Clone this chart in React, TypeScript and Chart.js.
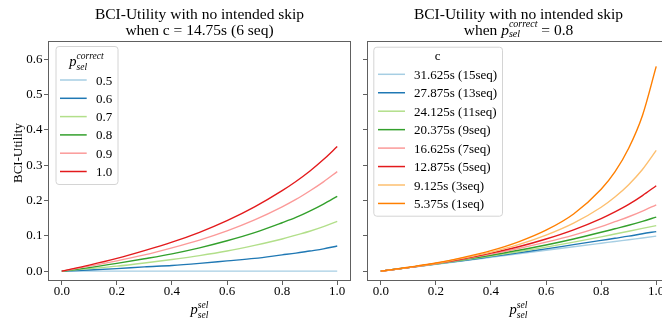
import React, { useEffect, useRef } from 'react';
import { Chart, registerables } from 'chart.js';

Chart.register(...registerables);

// ---------- data ----------
const X_VALUES = [0, 0.1, 0.2, 0.3, 0.4, 0.5, 0.6, 0.7, 0.8, 0.85, 0.9, 0.95, 1.0];
const X_TICKS = [0, 0.2, 0.4, 0.6, 0.8, 1.0];
const Y_TICKS = [0, 0.1, 0.2, 0.3, 0.4, 0.5, 0.6];

// left panel: c = 14.75s, one series per p_sel^correct
const P_CORRECT_LABELS = ['0.5', '0.6', '0.7', '0.8', '0.9', '1.0'];
const U_P05 = [0, 0, 0, 0, 0, 0, 0, 0, 0, 0, 0, 0, 0];
const U_P06 = [0, 0.003, 0.007, 0.012, 0.016, 0.022, 0.029, 0.036, 0.046, 0.051, 0.057, 0.063, 0.071];
const U_P07 = [0, 0.007, 0.014, 0.023, 0.033, 0.044, 0.057, 0.073, 0.091, 0.102, 0.113, 0.126, 0.141];
const U_P08 = [0, 0.010, 0.022, 0.035, 0.049, 0.066, 0.086, 0.109, 0.137, 0.152, 0.170, 0.190, 0.212];
const U_P09 = [0, 0.014, 0.029, 0.046, 0.066, 0.088, 0.114, 0.145, 0.182, 0.203, 0.227, 0.253, 0.282];
const U_P10 = [0, 0.017, 0.036, 0.058, 0.082, 0.110, 0.143, 0.182, 0.228, 0.254, 0.283, 0.316, 0.353];

// right panel: p_sel^correct = 0.8, one series per c
const C_LABELS = [
  '31.625s (15seq)',
  '27.875s (13seq)',
  '24.125s (11seq)',
  '20.375s (9seq)',
  '16.625s (7seq)',
  '12.875s (5seq)',
  '9.125s (3seq)',
  '5.375s (1seq)',
];
const U_C15 = [0, 0.010, 0.019, 0.029, 0.039, 0.049, 0.059, 0.069, 0.079, 0.084, 0.089, 0.094, 0.099];
const U_C13 = [0, 0.010, 0.020, 0.030, 0.041, 0.052, 0.063, 0.075, 0.087, 0.093, 0.099, 0.106, 0.112];
const U_C11 = [0, 0.010, 0.020, 0.031, 0.043, 0.055, 0.068, 0.082, 0.097, 0.105, 0.113, 0.121, 0.129];
const U_C9 = [0, 0.010, 0.021, 0.033, 0.045, 0.059, 0.074, 0.091, 0.110, 0.120, 0.130, 0.141, 0.153];
const U_C7 = [0, 0.010, 0.021, 0.034, 0.048, 0.064, 0.082, 0.102, 0.126, 0.140, 0.154, 0.170, 0.188];
const U_C5 = [0, 0.010, 0.022, 0.035, 0.051, 0.069, 0.091, 0.117, 0.149, 0.168, 0.189, 0.214, 0.242];
const U_C3 = [0, 0.010, 0.022, 0.037, 0.054, 0.075, 0.102, 0.136, 0.181, 0.210, 0.245, 0.288, 0.342];
const U_C1 = [0, 0.011, 0.023, 0.039, 0.058, 0.083, 0.116, 0.162, 0.232, 0.281, 0.348, 0.441, 0.580];

const PAIRED = ['#a6cee3', '#1f78b4', '#b2df8a', '#33a02c', '#fb9a99', '#e31a1c', '#fdbf6f', '#ff7f00'];

// ---------- styling helpers ----------
const SERIF = "'Liberation Serif', 'Times New Roman', serif";
const FRAME = '#606060';

type Run = { t: string; size: number; italic?: boolean; dy?: number };
type Piece = Run | { stack: Run[] };

const fontOf = (size: number, italic?: boolean) => `${italic ? 'italic ' : ''}${size}px ${SERIF}`;

function runWidth(ctx: CanvasRenderingContext2D, r: Run) {
  ctx.font = fontOf(r.size, r.italic);
  return ctx.measureText(r.t).width;
}
function pieceWidth(ctx: CanvasRenderingContext2D, p: Piece) {
  if ('stack' in p) return Math.max(...p.stack.map((r) => runWidth(ctx, r)));
  return runWidth(ctx, p);
}
function drawPieces(ctx: CanvasRenderingContext2D, pieces: Piece[], cx: number, baseline: number) {
  const total = pieces.reduce((s, p) => s + pieceWidth(ctx, p), 0);
  let x = cx - total / 2;
  ctx.fillStyle = '#000';
  ctx.textAlign = 'left';
  ctx.textBaseline = 'alphabetic';
  for (const p of pieces) {
    const runs = 'stack' in p ? p.stack : [p];
    for (const r of runs) {
      ctx.font = fontOf(r.size, r.italic);
      ctx.fillText(r.t, x, baseline + (r.dy || 0));
    }
    x += pieceWidth(ctx, p);
  }
}

type LegendSpec = {
  dx: number; dy: number; w: number; h: number;
  title: Piece[]; titleDy: number;
  labels: string[]; colors: string[];
  rowDy: number; rowStep: number; lineX0: number; lineX1: number; textX: number;
};
type Decor = {
  titleLines: Piece[][];
  titleBaselines: number[];
  xLabel: Piece[];
  xLabelBaseline: number;
  yLabel?: { text: string; x: number; y: number };
  legend: LegendSpec;
};

function decorPlugin(o: Decor) {
  return {
    id: 'decor',
    afterDraw(chart: any) {
      const ctx: CanvasRenderingContext2D = chart.ctx;
      const a = chart.chartArea;
      ctx.save();
      // frame
      ctx.strokeStyle = FRAME;
      ctx.lineWidth = 1;
      ctx.strokeRect(a.left + 0.5, a.top + 0.5, a.right - a.left - 1, a.bottom - a.top - 1);
      const cx = (a.left + a.right) / 2;
      // titles
      o.titleLines.forEach((line, i) => drawPieces(ctx, line, cx, o.titleBaselines[i]));
      // x label
      drawPieces(ctx, o.xLabel, cx, o.xLabelBaseline);
      // y label
      if (o.yLabel) {
        ctx.save();
        ctx.translate(o.yLabel.x, o.yLabel.y);
        ctx.rotate(-Math.PI / 2);
        ctx.font = fontOf(13);
        ctx.fillStyle = '#000';
        ctx.textAlign = 'center';
        ctx.textBaseline = 'middle';
        ctx.fillText(o.yLabel.text, 0, 0);
        ctx.restore();
      }
      // legend
      const L = o.legend;
      const bx = a.left + L.dx;
      const by = a.top + L.dy;
      ctx.beginPath();
      (ctx as any).roundRect(bx + 0.5, by + 0.5, L.w, L.h, 3);
      ctx.fillStyle = 'rgba(255,255,255,0.85)';
      ctx.fill();
      ctx.strokeStyle = '#d4d4d4';
      ctx.lineWidth = 1;
      ctx.stroke();
      drawPieces(ctx, L.title, bx + L.w / 2, by + L.titleDy);
      L.labels.forEach((label, i) => {
        const y = a.top + L.rowDy + i * L.rowStep;
        ctx.beginPath();
        ctx.strokeStyle = L.colors[i];
        ctx.lineWidth = 1.5;
        ctx.moveTo(a.left + L.lineX0, y);
        ctx.lineTo(a.left + L.lineX1, y);
        ctx.stroke();
        ctx.font = fontOf(13);
        ctx.fillStyle = '#000';
        ctx.textAlign = 'left';
        ctx.textBaseline = 'alphabetic';
        ctx.fillText(label, a.left + L.textX, y + 4.5);
      });
      ctx.restore();
    },
  };
}

function makeDatasets(labels: string[], series: number[][], colors: string[]) {
  return series.map((vals, i) => ({
    label: labels[i],
    data: X_VALUES.map((x, j) => ({ x, y: vals[j] })),
    borderColor: colors[i],
    backgroundColor: colors[i],
    borderWidth: 1.4,
    pointRadius: 0,
    fill: false,
    cubicInterpolationMode: 'monotone' as const,
    order: -i,
  }));
}

function makeConfig(datasets: any[], padRight: number, yWidth: number, showY: boolean, decor: Decor): any {
  const tickFont = { family: SERIF, size: 13 };
  return {
    type: 'line',
    data: { datasets },
    options: {
      animation: false,
      responsive: false,
      devicePixelRatio: 1,
      layout: { padding: { left: 0, right: padRight, top: 41, bottom: 0 } },
      plugins: { legend: { display: false }, title: { display: false }, tooltip: { enabled: false } },
      scales: {
        x: {
          type: 'linear',
          min: -0.05,
          max: 1.05,
          afterBuildTicks: (s: any) => { s.ticks = X_TICKS.map((v) => ({ value: v })); },
          afterFit: (s: any) => { s.height = 45; },
          ticks: { callback: (v: any) => Number(v).toFixed(1), font: tickFont, color: '#000', padding: -1, maxRotation: 0, autoSkip: false },
          grid: { drawOnChartArea: false, drawTicks: true, tickLength: 4, color: FRAME },
          border: { display: false },
        },
        y: {
          type: 'linear',
          min: -0.028,
          max: 0.652,
          afterBuildTicks: (s: any) => { s.ticks = Y_TICKS.map((v) => ({ value: v })); },
          afterFit: (s: any) => { s.width = yWidth; },
          ticks: { callback: (v: any) => (showY ? Number(v).toFixed(1) : ''), font: tickFont, color: '#000', padding: 1.5, autoSkip: false },
          grid: { drawOnChartArea: false, drawTicks: true, tickLength: 4, color: FRAME },
          border: { display: false },
        },
      },
    },
    plugins: [decorPlugin(decor)],
  };
}

const TITLE_1: Piece[] = [{ t: 'BCI-Utility with no intended skip', size: 15.5 }];
const X_LABEL: Piece[] = [
  { t: 'p', size: 14.5, italic: true },
  { stack: [ { t: 'sel', size: 9.5, italic: true, dy: -6 }, { t: 'sel', size: 9.5, italic: true, dy: 4 } ] },
];

export default function App() {
  const leftRef = useRef<HTMLCanvasElement>(null);
  const rightRef = useRef<HTMLCanvasElement>(null);

  useEffect(() => {
    const leftDecor: Decor = {
      titleLines: [TITLE_1, [{ t: 'when c = 14.75s (6 seq)', size: 15.5 }]],
      titleBaselines: [19, 35],
      xLabel: X_LABEL,
      xLabelBaseline: 313.5,
      yLabel: { text: 'BCI-Utility', x: 19, y: 153 },
      legend: {
        dx: 7.5, dy: 5, w: 62, h: 138,
        title: [
          { t: 'p', size: 14.5, italic: true },
          { stack: [ { t: 'correct', size: 9.5, italic: true, dy: -6.5 }, { t: 'sel', size: 9.5, italic: true, dy: 4.5 } ] },
        ],
        titleDy: 19.5,
        labels: P_CORRECT_LABELS,
        colors: PAIRED.slice(0, 6),
        rowDy: 39, rowStep: 18.3, lineX0: 12, lineX1: 38.7, textX: 48,
      },
    };
    const rightDecor: Decor = {
      titleLines: [
        TITLE_1,
        [
          { t: 'when ', size: 15.5 },
          { t: 'p', size: 15.5, italic: true },
          { stack: [ { t: 'correct', size: 10, italic: true, dy: -8 }, { t: 'sel', size: 10, italic: true, dy: 2.5 } ] },
          { t: ' = 0.8', size: 15.5 },
        ],
      ],
      titleBaselines: [19, 34.5],
      xLabel: X_LABEL,
      xLabelBaseline: 313.5,
      legend: {
        dx: 6.3, dy: 5.7, w: 128.7, h: 169,
        title: [{ t: 'c', size: 13 }],
        titleDy: 13,
        labels: C_LABELS,
        colors: PAIRED,
        rowDy: 33.3, rowStep: 18.45, lineX0: 11, lineX1: 38, textX: 47,
      },
    };

    const leftSets = makeDatasets(P_CORRECT_LABELS, [U_P05, U_P06, U_P07, U_P08, U_P09, U_P10], PAIRED);
    const rightSets = makeDatasets(C_LABELS, [U_C15, U_C13, U_C11, U_C9, U_C7, U_C5, U_C3, U_C1], PAIRED);

    const c1 = new Chart(leftRef.current as HTMLCanvasElement, makeConfig(leftSets, 9, 48, true, leftDecor));
    const c2 = new Chart(rightRef.current as HTMLCanvasElement, makeConfig(rightSets, 2, 7, false, rightDecor));
    return () => {
      c1.destroy();
      c2.destroy();
    };
  }, []);

  return (
    <div style={{ position: 'fixed', left: 0, top: 0, width: 662, height: 326, overflow: 'hidden', background: '#fff' }}>
      <canvas ref={leftRef} width={360} height={326} style={{ position: 'absolute', left: 0, top: 0, width: 360, height: 326 }} />
      <canvas ref={rightRef} width={312} height={326} style={{ position: 'absolute', left: 360, top: 0, width: 312, height: 326 }} />
    </div>
  );
}
